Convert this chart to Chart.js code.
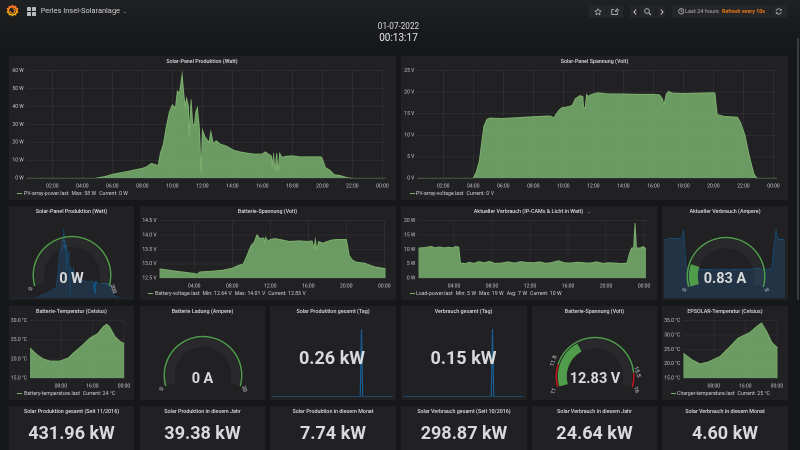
<!DOCTYPE html>
<html><head><meta charset="utf-8">
<style>
html,body{margin:0;padding:0;width:800px;height:450px;overflow:hidden;background:#161719}
#root{position:absolute;left:0;top:0;width:800px;height:450px;overflow:hidden;font-family:Roboto,sans-serif;color:#d8d9da;
background:linear-gradient(#202123 0,#1a1b1d 26px,#161719 52px);filter:blur(.3px)}
.a{position:absolute}
.a svg{display:block}
.panel{position:absolute;background:#212124}
.t{position:absolute;white-space:nowrap;line-height:1;will-change:opacity}
.c{transform:translate(-50%,-50%)}
canvas{position:absolute;display:block}
.btn{position:absolute;background:#252628;border-radius:1px}
</style>
<script src="https://cdn.jsdelivr.net/npm/chart.js@4"></script>
</head><body><div id="root"></div>
<script>
// ---------- data ----------
const pvHours=[0.22,4.85,5.5,6,7,8,8.3,8.6,8.9,9.05,9.2,9.4,9.6,9.8,10,10.1,10.2,10.33,10.47,10.65,10.75,10.85,10.95,11.08,11.12,11.25,11.36,11.47,11.56,11.67,11.8,11.92,12,12.18,12.45,12.56,12.74,12.92,13.2,13.6,14.1,14.5,15,15.5,16,16.2,16.4,16.6,16.65,16.75,16.85,16.95,17.05,17.15,17.3,17.6,18,18.5,19,19.5,19.9,20,20.2,20.5,20.8,21.2,21.6,22,24.22];
const pvWatts=[0,0,1,2.2,3.8,5.6,6.5,8.3,7.5,7,14,19,29,37,41,40,39,48.7,47.5,58,48.3,40,44.6,40,23,44,30,30,37,39.5,28,2.6,27,23,20,26,19.2,21,19,18,15.6,14.8,14,13.5,13.6,14.8,13.5,12.5,7,13,4,14,3.5,14,11.8,12.3,12.5,12,12,12,12,11,6,4.5,2,1.5,0.5,0,0];
const pvvHours=[0.22,4,4.2,4.4,4.55,4.7,4.9,5.1,6,7,8,9,9.2,9.35,9.5,9.7,9.9,10.1,10.4,10.6,10.8,11.1,11.3,11.35,11.45,11.55,11.65,11.75,12,12.3,13,14,15,16,16.4,16.6,16.7,16.85,17,17.3,18,19,20,20.1,20.25,20.7,21.6,21.8,22.1,22.4,22.7,22.9,24.22];
const pvVolts=[0,0,1.5,4,8,12,13.7,14,13.9,14.1,14.3,14.5,14.4,14,14.8,15.8,16.4,16.5,16.7,17,18.5,19.2,19,16.5,16.3,19.5,19,19.3,19.6,19.9,19.6,19.6,19.5,19.5,19.4,18.5,17,19.5,20.2,19.8,19.7,19.8,19.9,19.8,14.8,14.4,14.2,13,10,5,1,0,0];
const batHours=[0.3,2,4,4.3,4.6,6,7,8,8.5,9.16,9.5,9.8,10,10.3,10.6,10.9,11.3,11.4,11.5,11.8,12,12.5,13,14,15,16,16.4,16.6,16.75,16.9,17.1,17.5,18,18.5,19,20,20.1,20.3,20.6,21,22,22.5,23,24.2];
const batVolts=[12.83,12.75,12.67,12.64,12.72,12.75,12.78,12.85,12.93,13,13.25,13.5,13.65,13.75,14.01,13.88,13.9,13.75,13.92,13.78,13.85,13.88,13.85,13.78,13.8,13.78,13.8,13.55,13.85,13.5,13.78,13.72,13.78,13.83,13.85,13.85,13.7,13.3,13.15,13.07,13.02,12.95,12.9,12.83];
const loadHours=[0.24,1,1.6,2,2.4,3,3.4,3.9,4.2,4.5,4.68,5.2,5.6,6.1,6.6,7.2,7.7,8.3,9,9.7,10.4,11,11.7,12.4,13,13.7,14.3,15,15.6,16.1,17,17.7,18.3,19,19.7,20.3,21,21.6,22.2,22.5,22.7,22.9,23.05,23.2,23.6,23.9,24.2];
const loadWatts=[10.5,10.7,11.1,10.6,10.9,10.6,10.8,10.6,11.1,10.8,5.3,5.1,5.6,5.2,5.8,5.4,5.9,5.2,5.3,5.7,5.3,5.8,5.5,5.4,5.7,5.2,5.5,6.1,5.4,5.3,5.6,5.4,5.3,5.7,5.2,5.4,5.3,5.1,5.3,9,10.5,10.6,19.2,10.5,10.6,11,10.3];
const ampHours=[0,1.5,2.5,3.5,3.9,4.1,4.4,4.7,5.2,7,9,11,13,15,17,19,20.5,21.2,21.6,21.9,22.4,22.7,23.1,23.6,24.2];
const ampValues=[1.68,1.72,1.7,1.72,1.95,1.7,0.95,0.83,0.8,0.83,0.82,0.84,0.81,0.83,0.83,0.85,0.82,0.85,0.88,1.4,1.96,1.75,1.68,1.68,1.7];
const tempHours=[0.2,1.9,3.6,5.3,7.8,9.9,11.2,13.7,15.4,17.3,18.8,19.6,20.3,21.7,23,24.1];
const tempValues=[22.9,21.2,20,19.5,19.5,20.3,21.6,23.8,25.5,26.6,28.5,29.1,28.5,25.9,24.6,24];
const chgHours=[0.2,2.4,4.5,6.6,9.6,12.1,14.2,17.2,18.9,20.1,21.4,22.7,24.2];
const chgValues=[23.8,21.5,20,20.7,22.6,26,29,31,33,34.2,31.3,27.5,25.5];
const dayHours=[0,17.5,17.75,18,24];
const solarDay=[0,0,0.26,0,0];
const loadDay=[0,0,0.15,0,0];
const ticks2h=[2,4,6,8,10,12,14,16,18,20,22,24];
const labels2h=['02:00','04:00','06:00','08:00','10:00','12:00','14:00','16:00','18:00','20:00','22:00','00:00'];
const ticks4h=[4,8,12,16,20,24];
const labels4h=['04:00','08:00','12:00','16:00','20:00','00:00'];
const ticks8h=[8,16,24];
const labels8h=['08:00','16:00','00:00'];
const statLabels=['Solar Produktion gesamt (Seit 11/2016)','Solar Produktion in diesem Jahr','Solar Produktion in diesem Monat','Solar Verbrauch gesamt (Seit 10/2016)','Solar Verbrauch in diesem Jahr','Solar Verbrauch in diesem Monat'];
const statValues=['431.96 kW','39.38 kW','7.74 kW','298.87 kW','24.64 kW','4.60 kW'];

// ---------- helpers ----------
const root=document.getElementById('root');
const GREEN='#7eb26d',FILL='rgba(122,178,112,.84)',BLUE='#175f96',DIM='#145480',BFILL='rgba(31,118,189,.21)',RING='#4f9d4a';
function el(cls,css,html){const e=document.createElement('div');e.className=cls;e.style.cssText=css;if(html!=null)e.innerHTML=html;root.appendChild(e);return e;}
function panel(l,t,r,b){el('panel',`left:${l}px;top:${t}px;width:${r-l}px;height:${b-t}px`);}
function title(txt,cx,cy){el('t c',`left:${cx}px;top:${cy}px;font-size:5.35px;font-weight:500;color:#d8d9da`,txt);}
function big(txt,cx,cy,size){el('t c',`left:${cx}px;top:${cy}px;font-size:${size}px;font-weight:700;color:#d8d9da`,txt);}
function legend(txt,mx,tx,y){el('a',`left:${mx}px;top:${y-.5}px;width:5px;height:1.2px;background:${GREEN}`);
 el('t',`left:${tx}px;top:${y-2.7}px;font-size:5.2px;color:#c8c9ca;word-spacing:.2px`,txt);}
function canvas(l,t,w,h){const c=document.createElement('canvas');c.style.cssText=`left:${l}px;top:${t}px;width:${w}px;height:${h}px`;c.width=w;c.height=h;root.appendChild(c);return c;}
const zero=s=>{s.paddingLeft=s.paddingRight=s.paddingTop=s.paddingBottom=0;};

function area(P,A,hours,vals,yMin,yMax,step,fmt,tH,tL,xMin,xMax){
 const c=canvas(P[0],P[1],P[2]-P[0],P[3]-P[1]);
 new Chart(c,{type:'line',data:{datasets:[{data:hours.map((x,i)=>({x,y:vals[i]})),borderColor:GREEN,borderWidth:.9,backgroundColor:FILL,fill:'start',pointRadius:0,tension:0}]},
 options:{responsive:false,animation:false,devicePixelRatio:2,
  layout:{padding:{left:0,top:A[1]-P[1],right:P[2]-A[2],bottom:0}},
  plugins:{legend:{display:false},tooltip:{enabled:false}},
  scales:{
   x:{type:'linear',min:xMin,max:xMax,border:{display:false},
      afterBuildTicks:s=>{s.ticks=tH.map(v=>({value:v}));},
      afterFit:s=>{s.height=P[3]-A[3];zero(s);},
      grid:{color:'rgba(255,255,255,.1)',lineWidth:.5,drawTicks:false},
      ticks:{autoSkip:false,maxRotation:0,minRotation:0,padding:5,color:'#c8c9ca',font:{family:'Roboto',size:5},callback:v=>tL[tH.indexOf(v)]}},
   y:{min:yMin,max:yMax,border:{display:false},
      afterFit:s=>{s.width=A[0]-P[0];zero(s);},
      grid:{color:'rgba(255,255,255,.1)',lineWidth:.5,drawTicks:false},
      ticks:{stepSize:step,padding:3,color:'#c8c9ca',font:{family:'Roboto',size:5},callback:fmt}}
  }}});
}
function spark(l,t,r,b,hours,vals,yMax,xMin,xMax,fill,lw,col){
 const c=canvas(l,t,r-l,b-t);
 new Chart(c,{type:'line',data:{datasets:[{data:hours.map((x,i)=>({x,y:vals[i]})),borderColor:col,borderWidth:lw,backgroundColor:fill,fill:'start',pointRadius:0,tension:0}]},
 options:{responsive:false,animation:false,devicePixelRatio:2,layout:{padding:0},plugins:{legend:{display:false},tooltip:{enabled:false}},
  scales:{x:{type:'linear',display:false,min:xMin,max:xMax},y:{display:false,min:0,max:yMax}}}});
}
function gauge(cx,cy,thr,thrCol,val,track,r){
 const w=100,h=70,ratioBottom=Math.sin(16/180*Math.PI);
 const off=(1-ratioBottom)/2*r;
 const c=canvas(Math.round(cx-w/2),Math.round(cy-off-h/2),w,h);
 new Chart(c,{type:'doughnut',data:{datasets:[
   {data:thr,backgroundColor:thrCol,borderWidth:0,weight:1.9},
   {data:[1],backgroundColor:'rgba(0,0,0,0)',borderWidth:0,weight:1.1},
   {data:[val,track],backgroundColor:[RING,'rgba(255,255,255,.04)'],borderWidth:0,weight:11.5}]},
 options:{responsive:false,animation:false,devicePixelRatio:2,rotation:-106,circumference:212,radius:r,cutout:25,layout:{padding:0},
  plugins:{legend:{display:false},tooltip:{enabled:false}}}});
}
function glabel(txt,x,y,rot){el('t',`left:${x}px;top:${y}px;font-size:5.5px;color:#d8d9da;transform:translate(-50%,-50%) rotate(${rot}deg)`,txt);}

// ---------- header ----------
el('a','left:6px;top:4px;width:13px;height:14px',`<svg width="13" height="14" viewBox="0 0 26 28"><defs><linearGradient id="g" x1="0" y1="1" x2="0" y2="0"><stop offset="0" stop-color="#fbca0a"/><stop offset="1" stop-color="#f05a28"/></linearGradient></defs><path fill="url(#g)" d="M13 1l3 3 4-1 1 4 4 2-2 4 2 4-4 2-1 4-4-1-3 3-3-3-4 1-1-4-4-2 2-4-2-4 4-2 1-4 4 1z"/><circle cx="13" cy="14" r="6.6" fill="#1e1f21"/><path d="M13 9.5a4.5 4.5 0 1 1-4.5 4.5" fill="none" stroke="#f58a1f" stroke-width="2.2"/></svg>`);
el('a','left:27px;top:7px;width:9px;height:9px',`<svg width="9" height="9"><g fill="#b9babb"><rect width="4" height="4" rx=".5"/><rect x="5" width="4" height="4" rx=".5"/><rect y="5" width="4" height="4" rx=".5"/><rect x="5" y="5" width="4" height="4" rx=".5"/></g></svg>`);
el('t','left:40.7px;top:7.4px;font-size:7.45px;color:#c8c9ca','Perles Insel-Solaranlage');
el('a','left:123.5px;top:11.5px;width:0;height:0;border-left:1.5px solid transparent;border-right:1.5px solid transparent;border-top:1.5px solid #b9babb');
el('t c','left:398.5px;top:26px;font-size:8.2px;color:#d8d9da','01-07-2022');
el('t c','left:398.5px;top:37.5px;font-size:10px;color:#e4e5e6','00:13:17');
[[589,606],[607,622.7],[630,638],[638.7,655],[656.7,665],[672,770],[771,786.7]].forEach(b=>el('btn',`left:${b[0]}px;top:5px;width:${b[1]-b[0]}px;height:13px`));
const ic='fill="none" stroke="#b4b5b7" stroke-width=".9"';
el('a','left:593.5px;top:8px',`<svg width="8" height="7.6" viewBox="0 0 8 8"><path ${ic} d="M4 .7l1 2.2 2.4.3-1.8 1.6.5 2.4L4 6l-2.1 1.2.5-2.4L.6 3.2 3 2.9z"/></svg>`);
el('a','left:611px;top:8px',`<svg width="8" height="7" viewBox="0 0 8 7"><path ${ic} d="M6.5 4.5V6.5H.7V1.5H3M4 3.5Q4.3 1.8 6 1.7V.6L7.7 2.2 6 3.7V2.7Q4.8 2.7 4 3.5z"/></svg>`);
el('a','left:632.5px;top:8.5px',`<svg width="4" height="6"><path fill="none" stroke="#c8c9ca" stroke-width="1.1" d="M3.2.5L1 3l2.2 2.5"/></svg>`);
el('a','left:643.5px;top:8px',`<svg width="7.5" height="7.5"><circle cx="3" cy="3" r="2.4" ${ic}/><path d="M4.8 4.8L7 7" stroke="#b4b5b7" stroke-width="1.1"/></svg>`);
el('a','left:659.5px;top:8.5px',`<svg width="4" height="6"><path fill="none" stroke="#c8c9ca" stroke-width="1.1" d="M.8.5L3 3 .8 5.5"/></svg>`);
el('a','left:677.5px;top:8.3px',`<svg width="6.6" height="6.6"><circle cx="3.3" cy="3.3" r="2.7" ${ic}/><path d="M3.3 1.6V3.4L4.5 4" ${ic}/></svg>`);
el('t','left:685px;top:9px;font-size:5.6px;color:#aeafb1','Last 24 hours');
el('t','left:722px;top:9px;font-size:5.3px;font-weight:700;color:#eb7b18','Refresh every 10s');
el('a','left:775px;top:8px',`<svg width="7.5" height="7" viewBox="0 0 8 8"><path fill="none" stroke="#b4b5b7" stroke-width="1.1" d="M1 3.3A3 3 0 0 1 6.4 2.2M7 4.7A3 3 0 0 1 1.6 5.8"/><path fill="#b4b5b7" d="M7.3.8V3.2H4.9zM.7 7.2V4.8H3.1z"/></svg>`);
el('a','left:797px;top:38px;width:2.4px;height:262px;background:#3c3d3f;border-radius:1px');

// ---------- panels ----------
[[9,56,396,200],[401,56,788,200],
 [9,206,134,300],[140,206,396,300],[401,206,657,300],[662,206,788,300],
 [9,306,134,400],[140,306,265,400],[270,306,396,400],[401,306,527,400],[532,306,657,400],[662,306,788,400],
 [9,406,134,460],[140,406,265,460],[270,406,396,460],[401,406,527,460],[532,406,657,460],[662,406,788,460]
].forEach(p=>panel(...p));

// ---------- graphs ----------
area([9,56,396,200],[26.7,70.7,385.7,178.3],pvHours,pvWatts,0,60,10,v=>v+' W',ticks2h,labels2h,0.29,24.22);
area([401,56,788,200],[417.3,70.7,777.7,178.3],pvvHours,pvVolts,0,25,5,v=>v+' V',ticks2h,labels2h,0.27,24.28);
area([140,206,396,300],[159.5,220.7,385.7,278.3],batHours,batVolts,12.5,14.5,.5,v=>v.toFixed(1)+' V',ticks4h,labels4h,0.34,24.15);
area([401,206,657,300],[418.3,220.7,647.3,278.3],loadHours,loadWatts,0,20,5,v=>v+' W',ticks4h,labels4h,0.24,24.34);
area([9,306,134,400],[30,320.7,124.3,378.3],tempHours,tempValues,15,30,5,v=>v.toFixed(1)+' °C',ticks8h,labels8h,0.2,24.08);
area([662,306,788,400],[683.3,320.7,777.7,378.3],chgHours,chgValues,15,35,5,v=>v.toFixed(1)+' °C',ticks8h,labels8h,0.28,24.2);

// ---------- sparklines ----------
spark(11,220,131,297.5,pvHours,pvWatts,65,0,24.2,BFILL,.5,DIM);
spark(664,220,785,297.5,ampHours,ampValues,2.24,0,24.2,BFILL,.6,DIM);
spark(272,320,393,397,dayHours,solarDay,0.295,0,24,'rgba(0,0,0,0)',1.2,BLUE);
spark(403,320,524,397,dayHours,loadDay,0.17,0,24,'rgba(0,0,0,0)',1.2,BLUE);

// ---------- gauges ----------
gauge(71.7,275,[1],[RING],0,1,39.5);
gauge(725.5,276,[1],[RING],0.83,4.17,39.5);
gauge(202.8,375.5,[1],[RING],0,1,39.5);
gauge(595,376,[0.8,3.7,0.5],['#c4161c',RING,'#c4161c'],1.83,3.17,39.5);
glabel('0',30.5,288.5,-72);glabel('200',113,289,72);
glabel('0',685,290,-72);glabel('5',765.5,290,72);
glabel('0',161.5,388.5,-72);glabel('20',244,388.5,72);
glabel('11',553.5,390.5,-72);glabel('11.8',553.5,361,-72);glabel('15.5',637,372,72);glabel('16',636,390,72);

// ---------- big numbers ----------
big('0 W',71.5,278.5,14.5);
big('0.83 A',725,278.5,14.5);
big('0 A',202.5,378.5,14.5);
big('12.83 V',595,378.5,14.5);
big('0.26 kW',332,357.5,18);
big('0.15 kW',463.5,357.5,18);
[[71.5],[202.5],[333],[464],[594.5],[725]].forEach((p,i)=>{title(statLabels[i],p[0],412);big(statValues[i],p[0],432.5,18);});

// ---------- titles & legends ----------
title('Solar-Panel Produktion (Watt)',202,61.7);
title('Solar-Panel Spannung (Volt)',594.5,61.7);
title('Solar-Panel Produktion (Watt)',71.5,212);
title('Batterie-Spannung (Volt)',267.5,212);
title('Aktueller Verbrauch (IP-CAMs &amp; Licht in Watt)',528.5,212);
el('a','left:588px;top:211.5px;width:0;height:0;border-left:1.4px solid transparent;border-right:1.4px solid transparent;border-top:1.6px solid #a0a1a3');
title('Aktueller Verbrauch (Ampere)',725,212);
title('Batterie-Temperatur (Celsius)',71.5,312);
title('Batterie Ladung (Ampere)',202.5,312);
title('Solar Produktion gesamt (Tag)',333,312);
title('Verbrauch gesamt (Tag)',463.5,312);
title('Batterie-Spannung (Volt)',594.5,312);
title('EPSOLAR-Temperatur (Celsius)',725,312);
legend('PV-array-power.last&nbsp; Max: 58 W&nbsp; Current: 0 W',17.3,24,193.7);
legend('PV-array-voltage.last&nbsp; Current: 0 V',410,416,193.7);
legend('Battery-voltage.last&nbsp; Min: 12.64 V&nbsp; Max: 14.01 V&nbsp; Current: 12.83 V',148.3,155,293.7);
legend('Load-power.last&nbsp; Min: 5 W&nbsp; Max: 19 W&nbsp; Avg: 7 W&nbsp; Current: 10 W',410,416,293.7);
legend('Battery-temperature.last&nbsp; Current: 24 °C',17.3,24,393.7);
legend('Charger-temperature.last&nbsp; Current: 25 °C',671,677,393.7);
</script></body></html>
